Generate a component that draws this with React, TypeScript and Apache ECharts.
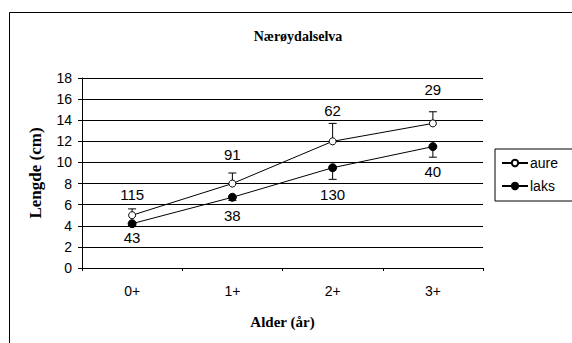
import React, { useEffect, useRef } from "react";
import * as echarts from "echarts";

const categories = ["0+", "1+", "2+", "3+"];
const aureMean = [5.0, 8.0, 12.0, 13.7];
const aureErrTop = [5.6, 9.0, 13.7, 14.8];
const aureN = [115, 91, 62, 29];
const laksMean = [4.2, 6.7, 9.5, 11.5];
const laksErrBottom = [4.0, 6.4, 8.4, 10.5];
const laksN = [43, 38, 130, 40];
const yTicks = { min: 0, max: 18, interval: 2 };

// label offsets (style only)
const aureLabelDist = [9, 18, 19, 22];
const laksLabelDist = [2, 6, 15, 13];

const FONT = "Liberation Sans, Arial, sans-serif";
const SERIF = "Liberation Serif, Times New Roman, serif";

function errorRender() {
  return (params: any, api: any) => {
    const x = api.value(0);
    const y = api.value(1);
    const e = api.value(2);
    const p = api.coord([x, y]);
    const q = api.coord([x, e]);
    return {
      type: "group",
      children: [
        {
          type: "line",
          shape: { x1: p[0], y1: p[1], x2: q[0], y2: q[1] },
          style: { stroke: "#000", lineWidth: 1 },
        },
        {
          type: "line",
          shape: { x1: q[0] - 4, y1: q[1], x2: q[0] + 4, y2: q[1] },
          style: { stroke: "#000", lineWidth: 1 },
        },
      ],
    };
  };
}

export default function App() {
  const ref = useRef<HTMLDivElement>(null);
  useEffect(() => {
    if (!ref.current) return;
    const chart = echarts.init(ref.current, null, { renderer: "svg" });
    chart.setOption({
      animation: false,
      backgroundColor: "#fff",
      title: {
        text: "Nærøydalselva",
        left: 293,
        top: 24,
        textAlign: "center",
        textStyle: { fontFamily: SERIF, fontWeight: "bold", fontSize: 14, color: "#000" },
      },
      graphic: [
        {
          type: "rect",
          silent: true,
          z: -10,
          shape: { x: 9.5, y: 12.5, width: 640, height: 400 },
          style: { fill: "none", stroke: "#000", lineWidth: 1 },
        },
      ],
      legend: {
        orient: "vertical",
        left: 495,
        top: 149,
        borderColor: "#000",
        borderWidth: 1,
        borderRadius: 0,
        padding: [7, 30, 8, 6],
        itemGap: 9,
        itemWidth: 26,
        itemHeight: 8,
        textStyle: { fontFamily: FONT, fontSize: 14, color: "#000", padding: [0, 0, 0, -3] },
        data: ["aure", "laks"],
      },
      grid: { left: 82, top: 78, width: 401, height: 190, containLabel: false },
      xAxis: {
        type: "category",
        data: categories,
        boundaryGap: true,
        name: "Alder (år)",
        nameLocation: "middle",
        nameGap: 46,
        nameTextStyle: { fontFamily: SERIF, fontWeight: "bold", fontSize: 15, color: "#000" },
        axisLine: { lineStyle: { color: "#000", width: 1 } },
        axisTick: { show: true, length: 3, interval: 0, lineStyle: { color: "#000" } },
        axisLabel: { margin: 16, fontFamily: FONT, fontSize: 14, color: "#000", interval: 0 },
        splitLine: { show: false },
      },
      yAxis: {
        type: "value",
        min: yTicks.min,
        max: yTicks.max,
        interval: yTicks.interval,
        name: "Lengde (cm)",
        nameLocation: "middle",
        nameGap: 38,
        nameRotate: 90,
        nameTextStyle: { fontFamily: SERIF, fontWeight: "bold", fontSize: 17, color: "#000" },
        axisLine: { show: true, lineStyle: { color: "#000", width: 1 } },
        axisTick: { show: true, length: 4, lineStyle: { color: "#000" } },
        axisLabel: { margin: 10, fontFamily: FONT, fontSize: 14, color: "#000" },
        splitLine: { show: true, lineStyle: { color: "#000", width: 1 } },
      },
      series: [
        {
          type: "custom",
          name: "aureErr",
          renderItem: errorRender(),
          data: aureMean.map((v, i) => [i, v, aureErrTop[i]]),
          z: 1,
          silent: true,
        },
        {
          type: "custom",
          name: "laksErr",
          renderItem: errorRender(),
          data: laksMean.map((v, i) => [i, v, laksErrBottom[i]]),
          z: 1,
          silent: true,
        },
        {
          type: "line",
          name: "aure",
          z: 3,
          symbol: "circle",
          symbolSize: 7,
          lineStyle: { color: "#000", width: 1 },
          itemStyle: { color: "#fff", borderColor: "#000", borderWidth: 1 },
          data: aureMean.map((v, i) => ({
            value: v,
            label: {
              show: true,
              position: "top",
              distance: aureLabelDist[i],
              formatter: () => String(aureN[i]),
              fontFamily: FONT,
              fontSize: 15,
              color: "#000",
            },
          })),
        },
        {
          type: "line",
          name: "laks",
          z: 3,
          symbol: "circle",
          symbolSize: 8,
          lineStyle: { color: "#000", width: 1 },
          itemStyle: { color: "#000", borderColor: "#000", borderWidth: 1 },
          data: laksMean.map((v, i) => ({
            value: v,
            label: {
              show: true,
              position: "bottom",
              distance: laksLabelDist[i],
              formatter: () => String(laksN[i]),
              fontFamily: FONT,
              fontSize: 15,
              color: "#000",
            },
          })),
        },
      ],
    });
    return () => chart.dispose();
  }, []);
  return (
    <div
      ref={ref}
      style={{ position: "fixed", left: 0, top: 0, width: 572, height: 343 }}
    />
  );
}
